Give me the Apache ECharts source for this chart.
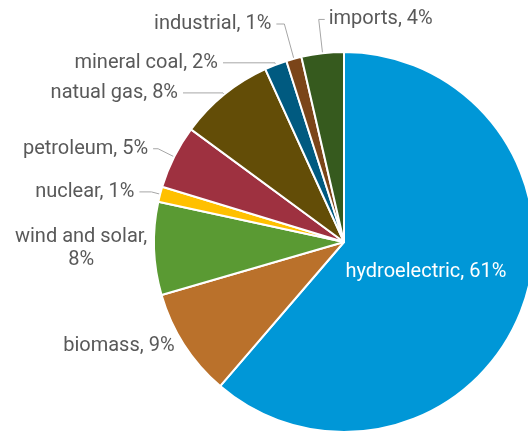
<!DOCTYPE html>
<html><head><meta charset="utf-8">
<script src="https://cdn.jsdelivr.net/npm/echarts@6/dist/echarts.min.js"></script>
<style>html,body{margin:0;padding:0;background:#fff}#c{width:528px;height:432px}</style>
</head><body><div id="c"></div>
<script>
const categories = ['hydroelectric','biomass','wind and solar','nuclear','petroleum','natual gas','mineral coal','industrial','imports'];
const values = [61.3, 9.2, 7.9, 1.3, 5.4, 8.1, 1.9, 1.3, 3.6];
const colors = ['#0097d7','#ba712b','#5a9a33','#ffc000','#9e3140','#634d07','#005a80','#7b4519','#365a1e'];
// leader line segment lengths per slice [radial, horizontal]
const leader = [[0,0],[2,3],[1,1],[9,12],[18,5],[2,40],[2,52],[36,8],[34,6]];

const chart = echarts.init(document.getElementById('c'));
const data = categories.map((n,i)=>{
  const d = {name:n, value:values[i], itemStyle:{color:colors[i]},
    labelLine:{length:leader[i][0], length2:leader[i][1]}};
  if(i===0){ d.label = {position:'inside', color:'#fff', offset:[-10,-4]}; }
  if(i===1 || i===2){ d.labelLine.show = false; }
  return d;
});
chart.setOption({
  animation:false,
  series:[{
    type:'pie',
    center:[344,242],
    radius:190,
    startAngle:90,
    clockwise:true,
    avoidLabelOverlap:false,
    itemStyle:{borderColor:'#fff', borderWidth:2},
    label:{
      fontFamily:'Roboto', fontSize:20, lineHeight:23, color:'#595959', overflow:'none',
      formatter:p=> p.dataIndex===2 ? '{c|'+p.name+',}\n{c|'+Math.round(p.percent)+'%}' : p.name+', '+Math.round(p.percent)+'%',
      rich:{c:{fontFamily:'Roboto', fontSize:20, lineHeight:23, color:'#595959', width:132, align:'center'}}
    },
    labelLine:{lineStyle:{color:'#a6a6a6', width:1}},
    labelLayout:function(params){
      if(params.dataIndex!==8 || !params.labelLinePoints) return;
      const pts = params.labelLinePoints;
      const p1 = pts[1];
      const end = [p1[0] + (p1[0]-pts[2][0]), pts[2][1]];
      return {x:end[0]+4, y:end[1], align:'left', verticalAlign:'middle', labelLinePoints:[pts[0], p1, end]};
    },
    data:data
  }]
});
</script></body></html>
